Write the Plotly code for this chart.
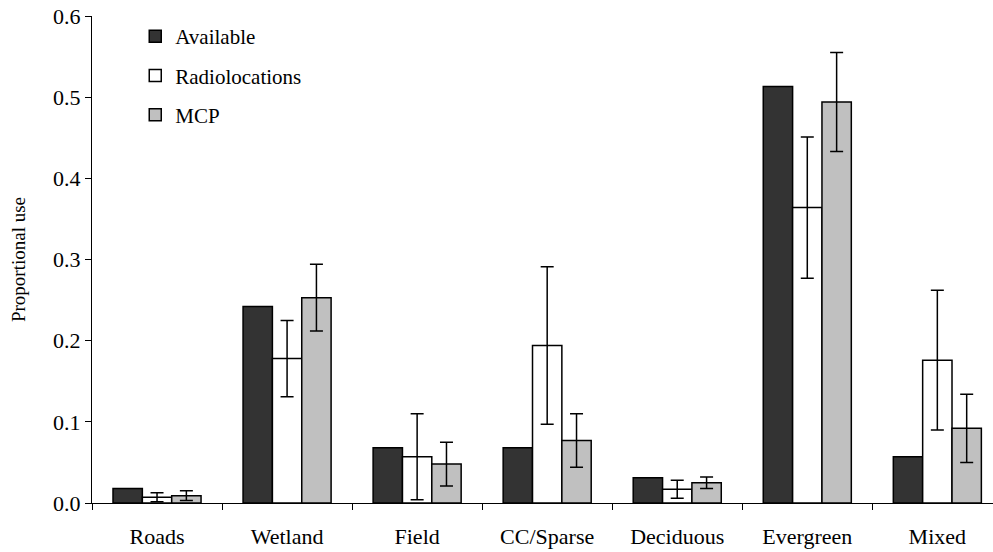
import plotly.graph_objects as go

# Habitat categories
categories = ["Roads", "Wetland", "Field", "CC/Sparse", "Deciduous", "Evergreen", "Mixed"]

# Proportion of each habitat available in the study area
available = [0.018, 0.242, 0.068, 0.068, 0.031, 0.513, 0.057]

# Proportional use from radiolocations, with error bar half-widths
radiolocations = [0.007, 0.178, 0.057, 0.194, 0.017, 0.364, 0.176]
radiolocations_err = [0.0055, 0.047, 0.053, 0.097, 0.011, 0.087, 0.086]

# Proportional use within minimum convex polygons, with error bar half-widths
mcp = [0.009, 0.253, 0.048, 0.077, 0.025, 0.494, 0.092]
mcp_err = [0.006, 0.041, 0.027, 0.033, 0.007, 0.061, 0.042]

y_ticks = [0.0, 0.1, 0.2, 0.3, 0.4, 0.5, 0.6]

FONT = "Liberation Serif, Times New Roman, serif"
outline = dict(color="black", width=1.5)
err_style = dict(type="data", symmetric=True, color="black", thickness=1.5, width=6.5)

fig = go.Figure()
fig.add_trace(go.Bar(
    name="Available", x=categories, y=available,
    marker=dict(color="#333333", line=outline),
    legendgroup="a",
))
fig.add_trace(go.Bar(
    name="Radiolocations", x=categories, y=radiolocations,
    error_y=dict(array=radiolocations_err, **err_style),
    marker=dict(color="white", line=outline),
    legendgroup="b",
))
fig.add_trace(go.Bar(
    name="MCP", x=categories, y=mcp,
    error_y=dict(array=mcp_err, **err_style),
    marker=dict(color="#c0c0c0", line=outline),
    legendgroup="c",
))

fig.update_layout(
    width=993, height=552,
    margin=dict(l=92, r=0, t=16, b=49),
    paper_bgcolor="white", plot_bgcolor="white",
    font=dict(family=FONT, size=22, color="black"),
    barmode="group", bargap=0.323, bargroupgap=0,
    showlegend=True,
    legend=dict(
        x=0.048, y=1.0, xanchor="left", yanchor="top",
        bgcolor="rgba(0,0,0,0)", font=dict(family=FONT, size=21),
        tracegroupgap=9, itemwidth=30,
    ),
    xaxis=dict(
        type="category", range=[-0.5, 6.428],
        tickson="boundaries", ticks="outside", ticklen=6, tickcolor="black",
        showline=True, linecolor="black", linewidth=1,
        showgrid=False, zeroline=False,
        tickfont=dict(family=FONT, size=22),
        ticklabelstandoff=14,
    ),
    yaxis=dict(
        range=[0, 0.6], tickvals=y_ticks, tickformat=".1f",
        ticks="outside", ticklen=6, tickcolor="black",
        showline=True, linecolor="black", linewidth=1,
        showgrid=False, zeroline=False,
        tickfont=dict(family=FONT, size=22),
        title=dict(text="Proportional use", font=dict(family=FONT, size=19), standoff=22),
        automargin=False,
    ),
)

fig.write_html("out.html")
